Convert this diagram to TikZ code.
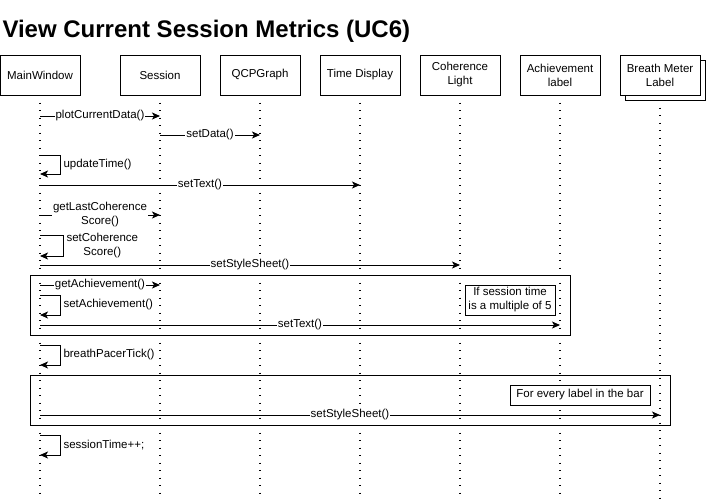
\documentclass[tikz,border=0pt]{standalone}
\usepackage{fontspec}
\setmainfont{Liberation Sans}
\usetikzlibrary{arrows.meta}
\begin{document}
\begin{tikzpicture}[x=1pt,y=-1pt,line width=1pt,
  txt/.style={font=\fontsize{11.5}{14}\selectfont},
  actor/.style={txt,draw,fill=white,minimum width=80pt,minimum height=40pt,inner sep=1pt,align=center},
  life/.style={line width=1.4pt,dash pattern=on 1.4pt off 6.1pt},
  msg/.style={-{Stealth[length=8pt,width=7pt,inset=2pt]}},
  lbl/.style={txt,fill=white,inner sep=1pt,align=center},
  slbl/.style={txt,anchor=west,inner sep=1pt,align=center},
  framebox/.style={draw,inner sep=0pt},
  note/.style={txt,draw,fill=white,inner sep=1pt,align=center}]
\useasboundingbox (0,0) rectangle (706,498);
\coordinate (bot) at (0,498);
% title
\node[anchor=base west,inner sep=0pt,font=\fontsize{24}{28}\selectfont\bfseries] (title) at (2,37) {View Current Session Metrics (UC6)};
% lifeline anchors
\coordinate (Lmw) at (40,95);
\coordinate (Lse) at (160,95);
\coordinate (Lqg) at (260,95);
\coordinate (Ltd) at (360,95);
\coordinate (Lcl) at (460,95);
\coordinate (Lal) at (560,95);
\coordinate (Lbm) at (660,100);
% lifelines
\foreach \l in {Lmw,Lse,Lqg,Ltd,Lcl,Lal,Lbm}
  \draw[life] (\l) -- (\l |- bot);
% actors
\node[actor] (mw) at (40,75) {MainWindow};
\node[actor] (se) at (160,75) {Session};
\node[actor] (qg) at (260,75) {QCPGraph};
\node[actor] (td) at (360,75) {Time Display};
\node[actor] (cl) at (460,75) {Coherence\\Light};
\node[actor] (al) at (560,75) {Achievement\\label};
\node[draw,fill=white,minimum width=80pt,minimum height=40pt] (bmshadow) at (665,80) {};
\node[actor] (bm) at (660,75) {Breath Meter\\Label};
% frames
\node[framebox,minimum width=540pt,minimum height=60pt] (f1) at (300,305) {};
\node[framebox,minimum width=640pt,minimum height=50pt] (f2) at (350,400) {};
% notes
\node[note,minimum width=90pt,minimum height=30pt] (n1) at (510,300) {If session time\\is a multiple of 5};
\node[note,minimum width=140pt,minimum height=20pt] (n2) at (580,395) {For every label in the bar};
% messages
\draw[msg] (Lmw |- 0,116) -- node[lbl] (m1) {plotCurrentData()} (Lse |- 0,116);
\draw[msg] (Lse |- 0,135) -- node[lbl] (m2) {setData()} (Lqg |- 0,135);
\draw[msg] (Lmw |- 0,155) -- ++(20,0) |- (Lmw |- 0,174);
\node[slbl] (m3) at (62,164.5) {updateTime()};
\draw[msg] (Lmw |- 0,185) -- node[lbl] (m4) {setText()} (Ltd |- 0,185);
\draw[msg] (Lmw |- 0,215) -- node[lbl] (m5) {getLastCoherence\\Score()} (Lse |- 0,215);
\draw[msg] (Lmw |- 0,235) -- ++(23,0) |- (Lmw |- 0,256);
\node[slbl] (m6) at (65,245.5) {setCoherence\\Score()};
\draw[msg] (Lmw |- 0,265) -- node[lbl] (m7) {setStyleSheet()} (Lcl |- 0,265);
\draw[msg] (Lmw |- 0,285) -- node[lbl] (m8) {getAchievement()} (Lse |- 0,285);
\draw[msg] (Lmw |- 0,295) -- ++(20,0) |- (Lmw |- 0,315);
\node[slbl] (m9) at (62,305) {setAchievement()};
\draw[msg] (Lmw |- 0,325) -- node[lbl] (m10) {setText()} (Lal |- 0,325);
\draw[msg] (Lmw |- 0,345) -- ++(20,0) |- (Lmw |- 0,365);
\node[slbl] (m11) at (62,355) {breathPacerTick()};
\draw[msg] (Lmw |- 0,415) -- node[lbl] (m12) {setStyleSheet()} (Lbm |- 0,415);
\draw[msg] (Lmw |- 0,435) -- ++(20,0) |- (Lmw |- 0,455);
\node[slbl] (m13) at (62,445) {sessionTime++;};
\end{tikzpicture}
\end{document}
